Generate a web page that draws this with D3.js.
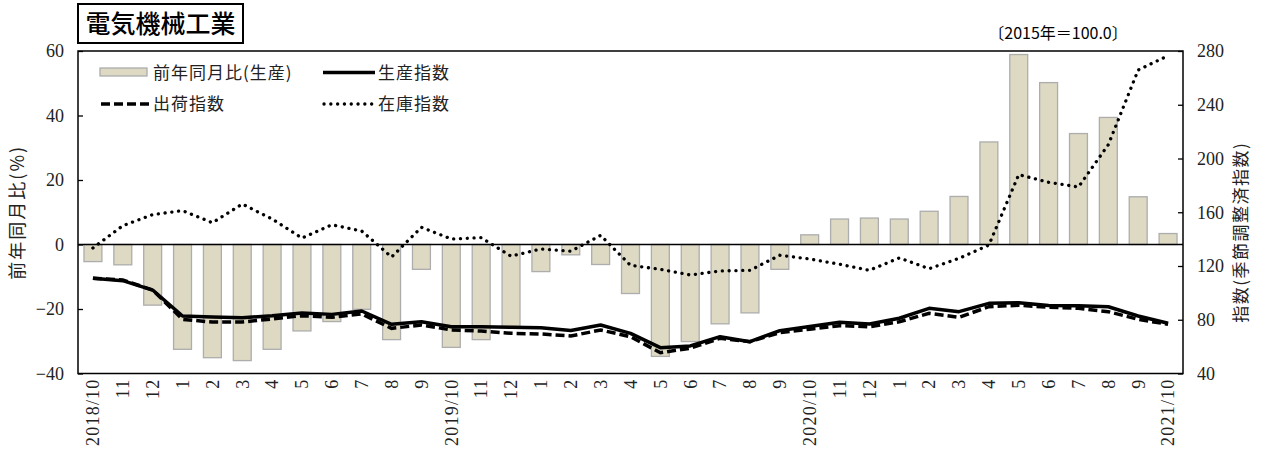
<!DOCTYPE html>
<html><head><meta charset="utf-8">
<script src="https://cdn.jsdelivr.net/npm/d3@7"></script>
<style>
html,body{margin:0;padding:0;background:#fff;}
svg{display:block;}
.jp{font-family:"Noto Sans CJK JP","Noto Sans",sans-serif;}
.num{font-family:"Liberation Serif","DejaVu Serif",serif;}
</style></head>
<body>
<svg id="chart" width="1266" height="454"></svg>
<script>
// ---- data ----
const monthLabels = ["2018/10","11","12","1","2","3","4","5","6","7","8","9",
  "2019/10","11","12","1","2","3","4","5","6","7","8","9",
  "2020/10","11","12","1","2","3","4","5","6","7","8","9","2021/10"];
const yoyProduction = [-5.3,-6.3,-18.8,-32.5,-35.1,-36.0,-32.5,-26.8,-23.9,-20.1,-29.5,-7.7,
  -31.9,-29.5,-25.4,-8.4,-3.2,-6.2,-15.2,-34.7,-30.1,-24.6,-21.2,-7.7,
  3.0,7.9,8.2,7.9,10.3,14.9,31.8,58.9,50.2,34.4,39.4,14.8,3.4];
const productionIndex = [110.8,109.1,102.1,82.8,82.0,81.5,83.0,85.0,84.0,86.5,76.6,78.5,
  74.8,74.8,74.4,74.1,72.0,76.1,69.9,59.2,60.5,67.4,63.7,71.9,
  75.0,78.1,76.8,81.1,88.5,86.0,92.2,92.7,90.6,90.5,89.7,82.8,77.4];
const shipmentIndex = [110.8,109.6,102.1,80.3,78.3,78.3,80.6,83.0,81.8,84.3,73.6,76.1,
  72.4,71.6,69.9,69.4,67.9,72.4,67.4,55.5,58.8,66.2,63.7,70.4,
  73.0,75.6,74.8,78.5,84.8,81.8,89.7,90.8,89.3,88.5,86.0,80.3,76.6];
const inventoryIndex = [133.4,150.0,158.2,161.2,152.2,166.1,155.0,140.8,150.7,146.0,126.7,148.8,
  140.1,141.1,127.3,132.7,131.0,142.8,120.5,117.5,113.3,116.3,116.8,128.0,
  125.2,121.3,116.8,126.0,118.0,125.7,135.6,188.0,182.3,178.8,210.3,265.9,276.5];
const leftTicks = [-40,-20,0,20,40,60];
const rightTicks = [40,80,120,160,200,240,280];
const titleText = "電気機械工業";
const baseText = "〔2015年＝100.0〕";
const leftAxisTitle = "前年同月比(%)";
const rightAxisTitle = "指数(季節調整済指数)";
const legendNames = ["前年同月比(生産)","生産指数","出荷指数","在庫指数"];

// ---- layout ----
const L = 78, R = 1183, T = 51, B = 373.5;
const svg = d3.select("#chart");
const idx = d3.range(monthLabels.length);
const x = d3.scaleBand().domain(idx).range([L, R]).paddingInner(0.4).paddingOuter(0.2);
const yL = d3.scaleLinear().domain([-40, 60]).range([B, T]);
const yR = d3.scaleLinear().domain([40, 280]).range([B, T]);
const cx = i => x(i) + x.bandwidth() / 2;

// bars
svg.append("g").selectAll("rect").data(yoyProduction).join("rect")
  .attr("x", (d, i) => x(i))
  .attr("width", x.bandwidth())
  .attr("y", d => yL(Math.max(0, d)))
  .attr("height", d => Math.abs(yL(d) - yL(0)))
  .attr("fill", "#ddd9c3").attr("stroke", "#adadad").attr("stroke-width", 1.3);

// zero line
svg.append("line").attr("x1", L).attr("x2", R).attr("y1", yL(0)).attr("y2", yL(0))
  .attr("stroke", "#000").attr("stroke-width", 1.3);

const line = d3.line().x((d, i) => cx(i)).y(d => yR(d));

svg.append("path").datum(inventoryIndex).attr("d", line)
  .attr("fill", "none").attr("stroke", "#000").attr("stroke-width", 3.3)
  .attr("stroke-linecap", "round").attr("stroke-dasharray", "0.1,6.7");
svg.append("path").datum(shipmentIndex).attr("d", line)
  .attr("fill", "none").attr("stroke", "#000").attr("stroke-width", 3.5)
  .attr("stroke-dasharray", "9,4");
svg.append("path").datum(productionIndex).attr("d", line)
  .attr("fill", "none").attr("stroke", "#000").attr("stroke-width", 3.5)
  .attr("stroke-linejoin", "round");

// frame
svg.append("rect").attr("x", L).attr("y", T).attr("width", R - L).attr("height", B - T)
  .attr("fill", "none").attr("stroke", "#000").attr("stroke-width", 1.5);

// axes
const axL = svg.append("g").attr("transform", `translate(${L},0)`)
  .call(d3.axisLeft(yL).tickValues(leftTicks).tickSize(-5).tickPadding(14));
const axR = svg.append("g").attr("transform", `translate(${R},0)`)
  .call(d3.axisRight(yR).tickValues(rightTicks).tickSize(-5).tickPadding(14));
[axL, axR].forEach(a => {
  a.select(".domain").remove();
  a.selectAll("line").attr("stroke", "#000").attr("stroke-width", 1.3);
  a.selectAll("text").attr("class", "num").attr("font-size", 18).attr("fill", "#222");
});
const axB = svg.append("g").attr("transform", `translate(0,${B})`)
  .call(d3.axisBottom(x).tickSize(0).tickFormat(i => monthLabels[i]));
axB.select(".domain").remove();
axB.selectAll("text").attr("class", "num").attr("font-size", 18).attr("fill", "#222")
  .attr("letter-spacing", 1.2)
  .attr("transform", "rotate(-90)").attr("text-anchor", "end")
  .attr("x", -5).attr("y", 0).attr("dy", "0.35em");

// titles
svg.append("rect").attr("x", 78).attr("y", 4).attr("width", 165).attr("height", 39)
  .attr("fill", "#fff").attr("stroke", "#000").attr("stroke-width", 2);
svg.append("text").attr("class", "jp").attr("x", 160.5).attr("y", 33)
  .attr("text-anchor", "middle").attr("font-size", 25).attr("font-weight", 500)
  .text(titleText);
svg.append("text").attr("class", "jp").attr("x", 1058).attr("y", 39)
  .attr("text-anchor", "middle").attr("font-size", 16).text(baseText);
svg.append("text").attr("class", "jp").attr("font-size", 18).attr("fill", "#222")
  .attr("letter-spacing", 2).attr("text-anchor", "middle")
  .attr("transform", `translate(24,${(T + B) / 2}) rotate(-90)`).text(leftAxisTitle);
svg.append("text").attr("class", "jp").attr("font-size", 17).attr("fill", "#222")
  .attr("letter-spacing", 1.5).attr("text-anchor", "middle")
  .attr("transform", `translate(1247,${(T + B) / 2 + 20}) rotate(-90)`).text(rightAxisTitle);

// legend
const lg = svg.append("g");
lg.append("rect").attr("x", 100).attr("y", 68).attr("width", 47).attr("height", 8)
  .attr("fill", "#ddd9c3").attr("stroke", "#adadad").attr("stroke-width", 1.3);
lg.append("line").attr("x1", 323).attr("x2", 375).attr("y1", 72.5).attr("y2", 72.5)
  .attr("stroke", "#000").attr("stroke-width", 3.5);
lg.append("line").attr("x1", 101).attr("x2", 150).attr("y1", 104).attr("y2", 104)
  .attr("stroke", "#000").attr("stroke-width", 3.5).attr("stroke-dasharray", "9,4");
lg.append("line").attr("x1", 324).attr("x2", 375).attr("y1", 104).attr("y2", 104)
  .attr("stroke", "#000").attr("stroke-width", 3.3).attr("stroke-linecap", "round")
  .attr("stroke-dasharray", "0.1,6.7");
const lpos = [[153, 72.5], [378, 72.5], [153, 104], [378, 104]];
legendNames.forEach((n, k) => {
  lg.append("text").attr("class", "jp").attr("x", lpos[k][0]).attr("y", lpos[k][1])
    .attr("dy", "0.36em").attr("font-size", 17).attr("letter-spacing", 1)
    .attr("fill", "#222").text(n);
});
</script>
</body></html>
